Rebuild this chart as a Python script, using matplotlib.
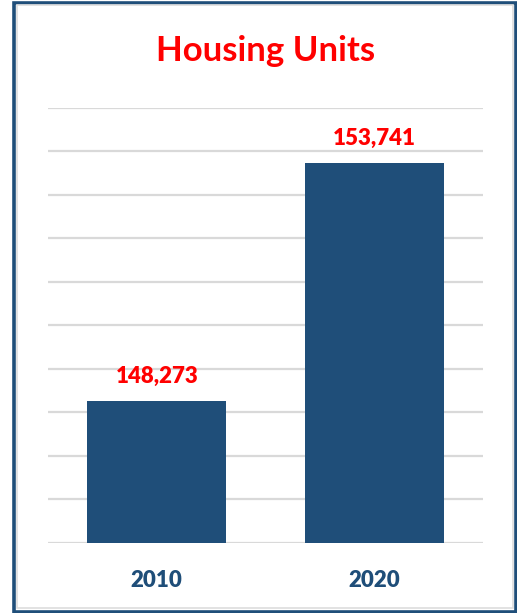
import matplotlib
matplotlib.use("Agg")
import matplotlib.pyplot as plt
from matplotlib.patches import Rectangle
from matplotlib.ticker import MultipleLocator

categories = ["2010", "2020"]
values = [148273, 153741]
value_labels = ["148,273", "153,741"]
title = "Housing Units"

W, H = 517, 613
fig = plt.figure(figsize=(W / 100, H / 100), dpi=100)
fig.patch.set_facecolor("white")

ax = fig.add_axes([48 / W, 70 / H, 435 / W, 435 / H])
bar_color = "#1F4E79"
x = list(range(len(categories)))
ax.bar(x, values, width=0.64, color=bar_color, zorder=3)
ax.set_xlim(-0.5, len(categories) - 0.5)
ax.set_ylim(145000, 155000)
ax.yaxis.set_major_locator(MultipleLocator(1000))
ax.grid(axis="y", color="#D9D9D9", linewidth=1.6, zorder=0)
ax.set_axisbelow(True)
for s in ax.spines.values():
    s.set_visible(False)
ax.tick_params(axis="y", left=False, labelleft=False)
ax.tick_params(axis="x", bottom=False, pad=16)
ax.set_xticks(x)
ax.set_xticklabels(categories, fontsize=16, fontweight="heavy", color="#1F4E79", family="Lato")

for xi, v, lab in zip(x, values, value_labels):
    ax.annotate(lab, (xi, v), xytext=(0, 13), textcoords="offset points",
                ha="center", va="baseline", fontsize=16, fontweight="heavy",
                color="#FF0000", family="Lato")

fig.text(266 / W, 1 - 51 / H, title, ha="center", va="center", fontsize=25,
         fontweight="bold", color="#FF0000", family="Lato")

# border
fig.patches.append(Rectangle((13.5 / W, 1.5 / H), (517 - 15) / W, (613 - 4.5) / H,
                             transform=fig.transFigure, fill=False,
                             edgecolor="#1F4E79", linewidth=2.6, zorder=10))
fig.patches.append(Rectangle((17 / W, 5 / H), (517 - 21) / W, (613 - 10) / H,
                             transform=fig.transFigure, fill=False,
                             edgecolor="#DDDDDD", linewidth=1.2, zorder=10))

fig.savefig("out.png", dpi=100)
